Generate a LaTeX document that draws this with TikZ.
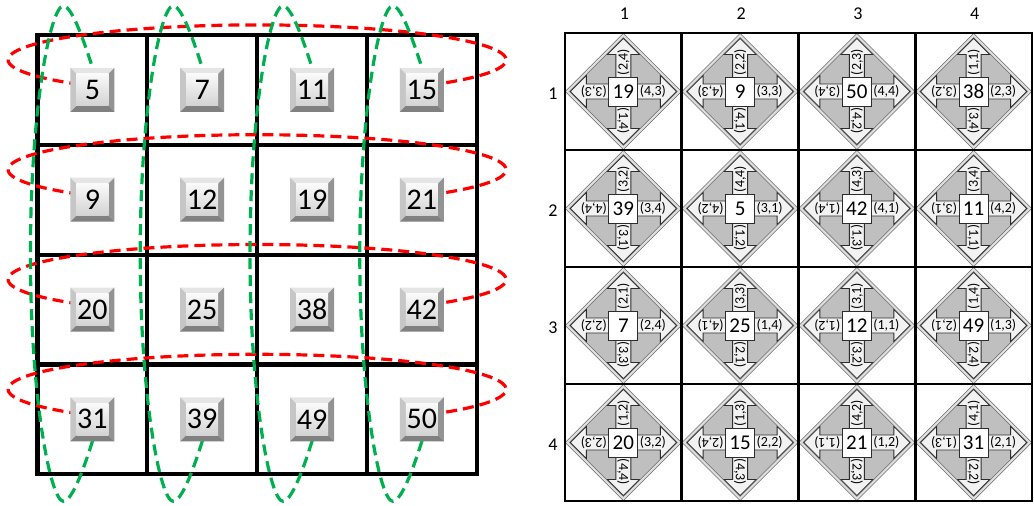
\documentclass[tikz,border=0pt]{standalone}
\usepackage{fontspec}
\setmainfont{Carlito}
\usetikzlibrary{calc}
\definecolor{loopred}{RGB}{255,0,0}
\definecolor{loopgreen}{RGB}{0,176,80}
\newcommand\rcell[7]{%
 \begin{scope}[shift={({565+116.75*(#2-0.5)},{33+117*(#1-0.5)})}]
  \draw[diamsty] (0,-56) -- (56,0) -- (0,56) -- (-56,0) -- cycle;
  \draw[arrsty] (10,-7.5) -- (37,-7.5) -- (37,-16) -- (53,0) -- (37,16) -- (37,7.5) -- (10,7.5) -- cycle;
  \draw[arrsty] (-10,-7.5) -- (-37,-7.5) -- (-37,-16) -- (-53,0) -- (-37,16) -- (-37,7.5) -- (-10,7.5) -- cycle;
  \draw[arrsty] (-7.5,10) -- (-7.5,37) -- (-16,37) -- (0,53) -- (16,37) -- (7.5,37) -- (7.5,10) -- cycle;
  \draw[arrsty] (-7.5,-10) -- (-7.5,-37) -- (-16,-37) -- (0,-53) -- (16,-37) -- (7.5,-37) -- (7.5,-10) -- cycle;
  \node[sq] (s#1#2) at (0,0) {#3};
  \node[lbl, rotate=90] (t#1#2) at (0,-29.5) {#4};
  \node[lbl] (r#1#2) at (29.5,0) {#5};
  \node[lbl, rotate=-90] (u#1#2) at (0,29.5) {#6};
  \node[lbl, rotate=180] (l#1#2) at (-29.5,0) {#7};
 \end{scope}}
\newcommand\colloopdraw[1]{%
 \draw[colloop] ($(b1#1)+(4,-10)$) .. controls ($(b1#1)+(-7,-45)$) and ($(b1#1)+(-20,-84)$) .. ($(b1#1)+(-29,-84)$)
   .. controls ($(b1#1)+(-42,-84)$) and ($(b1#1)+(-62,20)$) .. ($(b1#1)!0.5!(b4#1)+(-62,0)$)
   .. controls ($(b4#1)+(-62,-22)$) and ($(b4#1)+(-42,82)$) .. ($(b4#1)+(-29,82)$)
   .. controls ($(b4#1)+(-20,82)$) and ($(b4#1)+(-7,46)$) .. ($(b4#1)+(4,9)$);}
\newcommand\rowloopdraw[1]{%
 \path ($(b#11)!0.5!(b#14)+(0,-30)$) coordinate (rc#1);
 \draw[rowloop, shift={(rc#1)}] plot[domain=130:410, samples=120] ({249*cos(\x)},{35*sin(\x)});}
\begin{document}
\begin{tikzpicture}[x=1pt,y=-1pt,
  gridline/.style={line width=4.2pt, line cap=rect, draw=black},
  rgridline/.style={line width=2.8pt, line cap=rect, draw=black},
  rowloop/.style={draw=loopred, line width=3.2pt, dash pattern=on 11pt off 6pt},
  colloop/.style={draw=loopgreen, line width=3.2pt, dash pattern=on 11pt off 6pt},
  btn/.style={minimum size=44pt, inner sep=0pt, font=\fontsize{30}{30}\selectfont,
    path picture={%
      \coordinate (pA) at (path picture bounding box.north west);
      \coordinate (pB) at (path picture bounding box.north east);
      \coordinate (pC) at (path picture bounding box.south east);
      \coordinate (pD) at (path picture bounding box.south west);
      \fill[gray!20] (pA) -- (pB) -- ($(pB)+(-6,6)$) -- ($(pA)+(6,6)$) -- cycle;
      \fill[gray!45] (pA) -- ($(pA)+(6,6)$) -- ($(pD)+(6,-6)$) -- (pD) -- cycle;
      \fill[gray!85] (pB) -- (pC) -- ($(pC)+(-6,-6)$) -- ($(pB)+(-6,6)$) -- cycle;
      \fill[gray] (pD) -- (pC) -- ($(pC)+(-6,-6)$) -- ($(pD)+(6,-6)$) -- cycle;
      \shade[top color=gray!4, bottom color=gray!35] ($(pA)+(6,6)$) rectangle ($(pC)+(-6,-6)$);
    }},
  diamsty/.style={draw=gray!85!black, line width=0.8pt, double=gray!25, double distance=2pt, fill=gray!50},
  arrsty/.style={draw=gray!35!black, fill=gray!10, line width=0.8pt},
  sq/.style={draw=gray!35!black, fill=white, line width=0.9pt, minimum size=29pt, inner sep=0pt, font=\fontsize{21}{21}\selectfont},
  lbl/.style={inner sep=0pt, font=\fontsize{14}{14}\selectfont},
  hdr/.style={inner sep=0pt, font=\fontsize{18}{18}\selectfont},
]
\useasboundingbox (0,0) rectangle (1034,506);
\fill[white] (0,0) rectangle (1034,506);
% left grid
\foreach \i in {0,...,4} {
  \draw[gridline] ({37.5+109.8*\i},35) -- ({37.5+109.8*\i},474.2);
  \draw[gridline] (37.5,{35+109.8*\i}) -- (476.7,{35+109.8*\i});
}
% button positions
\foreach \v/\r/\c in {5/1/1,7/1/2,11/1/3,15/1/4,9/2/1,12/2/2,19/2/3,21/2/4,20/3/1,25/3/2,38/3/3,42/3/4,31/4/1,39/4/2,49/4/3,50/4/4}
  \coordinate (b\r\c) at ({92.4+109.8*(\c-1)},{89.9+109.8*(\r-1)});
% loops
\rowloopdraw{1}\rowloopdraw{2}\rowloopdraw{3}\rowloopdraw{4}
\colloopdraw{1}\colloopdraw{2}\colloopdraw{3}\colloopdraw{4}
% buttons
\foreach \v/\r/\c in {5/1/1,7/1/2,11/1/3,15/1/4,9/2/1,12/2/2,19/2/3,21/2/4,20/3/1,25/3/2,38/3/3,42/3/4,31/4/1,39/4/2,49/4/3,50/4/4}
  \node[btn] (btn\r\c) at (b\r\c) {\v};
% right grid
\rcell{1}{1}{19}{(2,4)}{(4,3)}{(1,4)}{(3,3)}
\rcell{1}{2}{9}{(2,2)}{(3,3)}{(4,1)}{(4,3)}
\rcell{1}{3}{50}{(2,3)}{(4,4)}{(4,2)}{(3,4)}
\rcell{1}{4}{38}{(1,1)}{(2,3)}{(3,4)}{(3,2)}
\rcell{2}{1}{39}{(3,2)}{(3,4)}{(3,1)}{(4,4)}
\rcell{2}{2}{5}{(4,4)}{(3,1)}{(1,2)}{(4,2)}
\rcell{2}{3}{42}{(4,3)}{(4,1)}{(1,3)}{(1,4)}
\rcell{2}{4}{11}{(3,4)}{(4,2)}{(1,1)}{(3,1)}
\rcell{3}{1}{7}{(2,1)}{(2,4)}{(3,3)}{(2,2)}
\rcell{3}{2}{25}{(3,3)}{(1,4)}{(2,1)}{(4,1)}
\rcell{3}{3}{12}{(3,1)}{(1,1)}{(3,2)}{(1,2)}
\rcell{3}{4}{49}{(1,4)}{(1,3)}{(2,4)}{(2,1)}
\rcell{4}{1}{20}{(1,2)}{(3,2)}{(4,4)}{(2,3)}
\rcell{4}{2}{15}{(1,3)}{(2,2)}{(4,3)}{(2,4)}
\rcell{4}{3}{21}{(4,2)}{(1,2)}{(2,3)}{(1,1)}
\rcell{4}{4}{31}{(4,1)}{(2,1)}{(2,2)}{(1,3)}
\foreach \i in {0,...,4} {
  \draw[rgridline] ({565+116.75*\i},33) -- ({565+116.75*\i},501);
  \draw[rgridline] (565,{33+117*\i}) -- (1032,{33+117*\i});
}
\foreach \i in {1,...,4} {
  \node[hdr] (ch\i) at ({565+116.75*(\i-0.5)+1},14) {\i};
  \node[hdr] (rh\i) at (553,{33+117*(\i-0.5)+2}) {\i};
}
\end{tikzpicture}
\end{document}
